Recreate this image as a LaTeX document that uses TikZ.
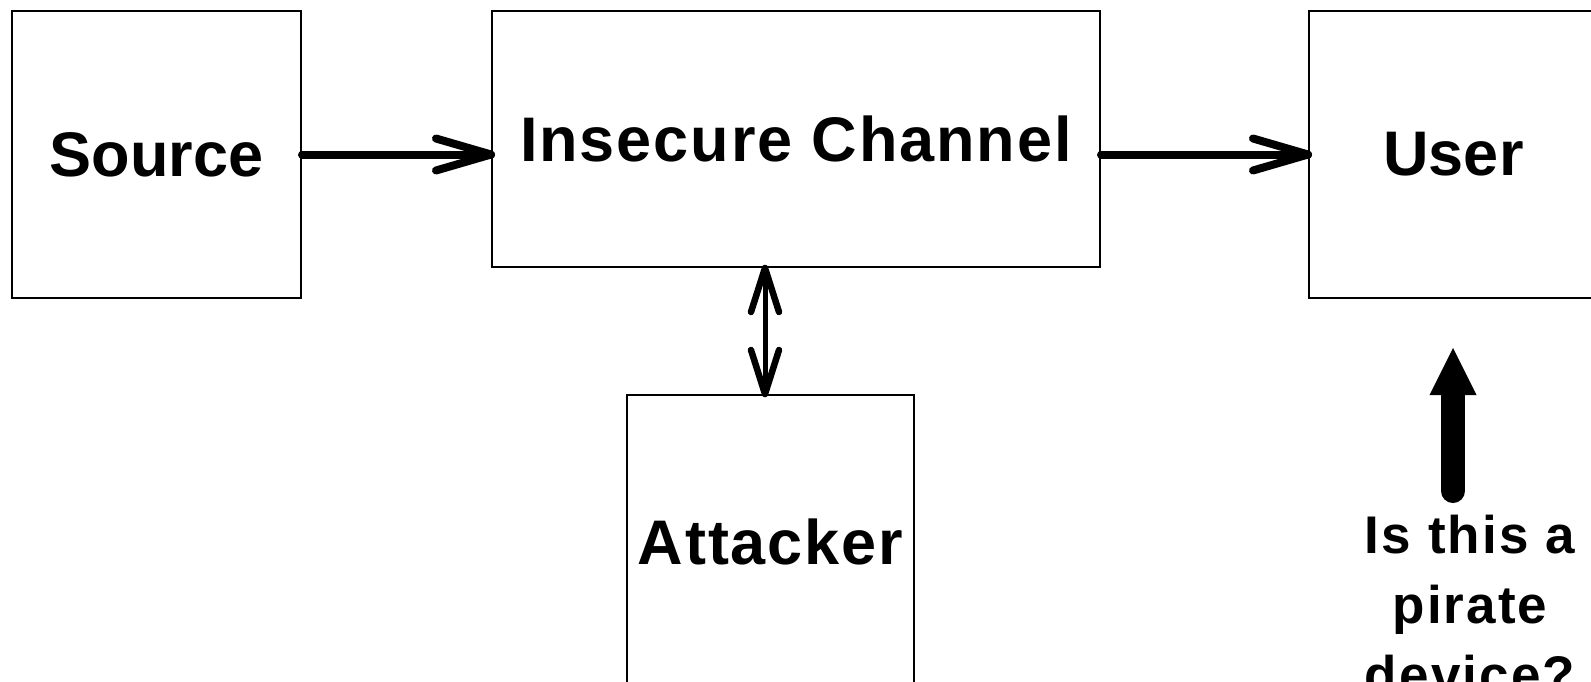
\documentclass[tikz,border=0pt]{standalone}
\usepackage{fontspec}
\setmainfont{Liberation Sans}
\usetikzlibrary{arrows.meta,calc}
\begin{document}
\begin{tikzpicture}[x=1pt,y=-1pt,
  box/.style={draw,line width=2pt,inner sep=0pt,font=\bfseries\fontsize{63}{70}\selectfont},
  wide/.style={font=\bfseries\fontsize{63}{70}\selectfont\addfontfeature{LetterSpace=3}},
  flow/.style={line width=8pt,line cap=round,line join=round},
  dflow/.style={line width=5pt,line cap=round,line join=round},
  dbarb/.style={line width=6.5pt,line cap=round,line join=round},
  bigarrow/.style={line width=24pt,line cap=round,-{Triangle[length=47pt,width=47pt,line width=0pt 0]}},
  qtext/.style={anchor=north,inner sep=0pt,align=center,font=\bfseries\fontsize{53}{70}\selectfont\addfontfeature{LetterSpace=4}}]
\useasboundingbox (0,0) rectangle (1591,681);
\clip (0,0) rectangle (1591,681);
\node[box,minimum width=289pt,minimum height=287pt] (src) at (156.5,154.5) {Source};
\node[box,wide,minimum width=608pt,minimum height=256pt] (chan) at (796,139) {Insecure Channel};
\node[box,minimum width=289pt,minimum height=287pt] (user) at (1453.5,154.5) {User};
\node[box,wide,minimum width=287pt,minimum height=294pt] (att) at (770.5,542) {Attacker};
\node[qtext] (q) at (1470,515) {Is this a\\pirate\\device?};
% Source -> Insecure Channel
\coordinate (e1) at (src.east -| chan.west);
\draw[flow] (src.east) -- (e1);
\draw[flow] ($(e1)+(-55,-16)$) -- (e1) -- ($(e1)+(-55,16)$);
% Insecure Channel -> User
\coordinate (s2) at (src.east -| chan.east);
\coordinate (e2) at (src.east -| user.west);
\draw[flow] (s2) -- (e2);
\draw[flow] ($(e2)+(-55,-16)$) -- (e2) -- ($(e2)+(-55,16)$);
% Insecure Channel <-> Attacker
\coordinate (t3) at ([xshift=-5.5pt]chan.south -| att.north);
\coordinate (b3) at ([xshift=-5.5pt]att.north);
\draw[dflow] (t3) -- (b3);
\draw[dbarb] ($(t3)+(-14,44)$) -- (t3) -- ($(t3)+(14,44)$);
\draw[dbarb] ($(b3)+(-14,-44)$) -- (b3) -- ($(b3)+(14,-44)$);
% question -> User
\coordinate (qtop) at (1453,491);
\coordinate (tip) at (1453,348);
\draw[bigarrow] (qtop) -- (tip);
\end{tikzpicture}
\end{document}
